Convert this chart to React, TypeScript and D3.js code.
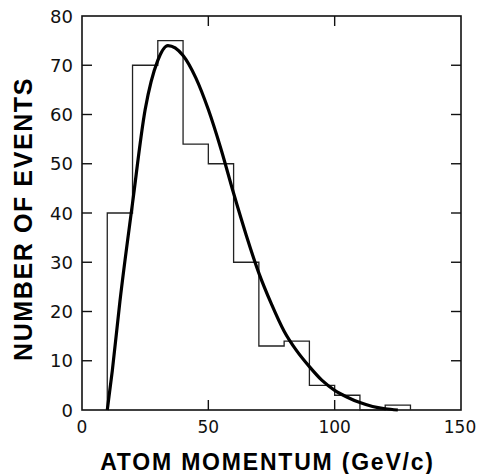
import React from "react";
import * as d3 from "d3";

// Histogram bins (lower edges, GeV/c) and counts
const binStarts = [10, 20, 30, 40, 50, 60, 70, 80, 90, 100, 110, 120];
const binCounts = [40, 70, 75, 54, 50, 30, 13, 14, 5, 3, 0, 1];
const binWidth = 10;

// Fitted curve
const fitX = [10, 12, 15, 20, 25, 30, 34, 40, 45, 50, 55, 60, 65, 70, 75, 80, 85, 90, 95, 100, 105, 110, 115, 120, 125];
const fitY = [0, 8, 22, 42, 61, 71, 74, 72, 67.5, 61, 53, 44, 35.5, 27.8, 21.5, 16, 12, 8.8, 6, 4, 2.6, 1.5, 0.7, 0.25, 0];

const xTicks = [0, 50, 100, 150];
const yTicks = [0, 10, 20, 30, 40, 50, 60, 70, 80];
const xTitle = "ATOM MOMENTUM (GeV/c)";
const yTitle = "NUMBER OF EVENTS";

const W = 478;
const H = 474;
const M = { left: 82, right: 461, top: 16, bottom: 410 };

export default function App() {
  const x = d3.scaleLinear().domain([0, 150]).range([M.left, M.right]);
  const y = d3.scaleLinear().domain([0, 80]).range([M.bottom, M.top]);

  // step outline of histogram
  const steps: [number, number][] = [];
  steps.push([binStarts[0], 0]);
  binStarts.forEach((b, i) => {
    steps.push([b, binCounts[i]]);
    steps.push([b + binWidth, binCounts[i]]);
  });
  steps.push([binStarts[binStarts.length - 1] + binWidth, 0]);
  const stepPath = d3.line<[number, number]>().x((d) => x(d[0])).y((d) => y(d[1]))(steps) || "";

  const fitPts = fitX.map((v, i) => [v, fitY[i]] as [number, number]);
  const fitPath =
    d3
      .line<[number, number]>()
      .x((d) => x(d[0]))
      .y((d) => y(d[1]))
      .curve(d3.curveMonotoneX)(fitPts) || "";

  const tickLen = 10;
  const tickFont = "'DejaVu Sans', sans-serif";
  const titleFont = "'Liberation Sans', Arial, sans-serif";

  return (
    <svg width={W} height={H} style={{ position: "absolute", left: 0, top: 0, background: "#fff" }}>
      <rect x={0} y={0} width={W} height={H} fill="#fff" />
      {/* frame */}
      <rect
        x={M.left}
        y={M.top}
        width={M.right - M.left}
        height={M.bottom - M.top}
        fill="none"
        stroke="#111"
        strokeWidth={1.6}
      />
      {/* y ticks both sides */}
      {yTicks.slice(1, -1).map((t) => (
        <g key={"yt" + t}>
          <line x1={M.left} x2={M.left + tickLen} y1={y(t)} y2={y(t)} stroke="#111" strokeWidth={1.4} />
          <line x1={M.right} x2={M.right - tickLen} y1={y(t)} y2={y(t)} stroke="#111" strokeWidth={1.4} />
        </g>
      ))}
      {/* x ticks top and bottom */}
      {xTicks.slice(1, -1).map((t) => (
        <g key={"xt" + t}>
          <line x1={x(t)} x2={x(t)} y1={M.bottom} y2={M.bottom - tickLen} stroke="#111" strokeWidth={1.4} />
          <line x1={x(t)} x2={x(t)} y1={M.top} y2={M.top + tickLen} stroke="#111" strokeWidth={1.4} />
        </g>
      ))}
      {/* y tick labels */}
      {yTicks.map((t) => (
        <text
          key={"yl" + t}
          x={M.left - 9}
          y={y(t) + 6.5}
          textAnchor="end"
          fontFamily={tickFont}
          fontSize={18}
          fill="#111"
        >
          {t}
        </text>
      ))}
      {/* x tick labels */}
      {xTicks.map((t) => (
        <text
          key={"xl" + t}
          x={Math.min(x(t), W - 18)}
          y={433}
          textAnchor="middle"
          fontFamily={tickFont}
          fontSize={17}
          fill="#111"
        >
          {t}
        </text>
      ))}
      {/* histogram */}
      <path d={stepPath} fill="none" stroke="#222" strokeWidth={1.3} />
      {/* fit curve */}
      <path d={fitPath} fill="none" stroke="#000" strokeWidth={3.2} strokeLinejoin="round" />
      {/* axis titles */}
      <text
        x={(100 + 435) / 2}
        y={470}
        textAnchor="middle"
        fontFamily={titleFont}
        fontWeight="bold"
        fontSize={23}
        letterSpacing={1.8}
        fill="#000"
      >
        {xTitle}
      </text>
      <text
        transform={`translate(31.5, 219) rotate(-90)`}
        textAnchor="middle"
        fontFamily={titleFont}
        fontWeight="bold"
        fontSize={25}
        letterSpacing={1.6}
        fill="#000"
      >
        {yTitle}
      </text>
    </svg>
  );
}
